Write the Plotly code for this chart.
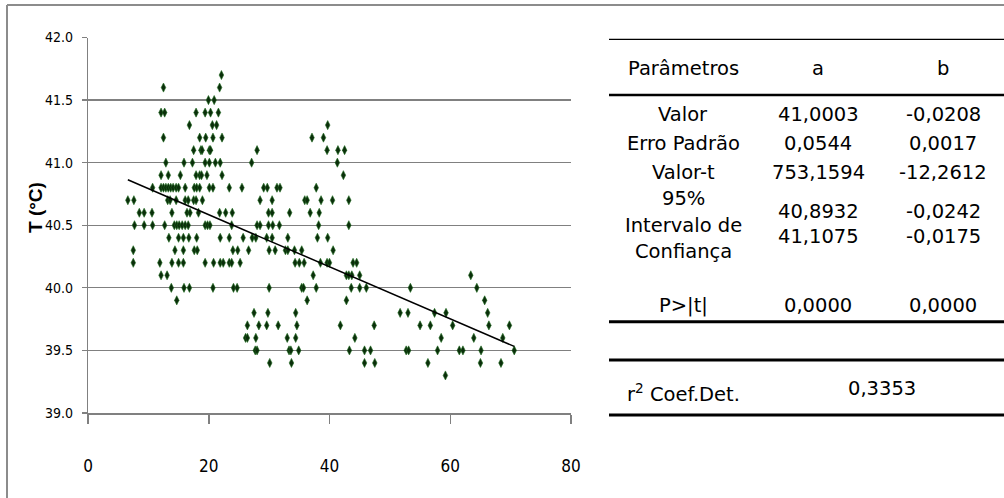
import plotly.graph_objects as go

# ---- data: temperature levels and the x positions of points read at each level ----
levels = [41.7, 41.6, 41.5, 41.4, 41.3, 41.2, 41.1, 41.0, 40.9, 40.8, 40.7, 40.6, 40.5,
          40.4, 40.3, 40.2, 40.1, 40.0, 39.9, 39.8, 39.7, 39.6, 39.5, 39.4, 39.3]
x_at_level = [
    [22.1],
    [12.5, 21.8],
    [19.95, 20.9],
    [12.1, 12.7, 17.9, 19.4, 20.3, 21.6],
    [16.8, 20.6, 21.3, 39.7],
    [12.5, 18.5, 19.5, 20.7, 22.2, 37.1, 39.0],
    [17.5, 18.7, 18.9, 20.1, 20.3, 28.0, 39.6, 41.4, 42.5],
    [12.9, 15.9, 17.3, 19.4, 20.1, 21.1, 21.9, 27.1, 41.3],
    [12.1, 13.3, 15.3, 17.9, 18.5, 18.8, 19.7, 22.2, 42.3],
    [10.7, 12.1, 12.5, 12.9, 13.3, 13.7, 14.1, 14.6, 15.0, 16.1, 17.6, 18.0, 18.5, 20.1,
     20.7, 23.4, 25.5, 29.1, 29.7, 31.3, 31.8, 37.8],
    [6.6, 7.6, 13.2, 13.6, 14.6, 16.1, 16.6, 17.5, 17.9, 18.95, 28.5, 30.5, 35.9, 36.3,
     38.6, 40.5, 43.2],
    [8.5, 9.3, 10.6, 13.9, 16.4, 16.9, 18.3, 21.8, 22.8, 23.9, 29.9, 30.5, 33.4, 36.8, 38.3],
    [7.7, 9.3, 10.7, 12.7, 14.3, 14.7, 15.1, 15.6, 16.1, 16.6, 19.4, 19.8, 20.2, 23.8,
     28.0, 28.5, 29.9, 30.6, 31.7, 38.2, 43.2],
    [13.4, 15.0, 15.8, 16.7, 18.0, 21.9, 23.4, 25.7, 27.2, 27.8, 29.6, 30.5, 33.1, 38.0, 39.7],
    [7.5, 14.4, 15.8, 17.6, 18.1, 24.0, 24.8, 26.6, 30.0, 31.0, 32.7, 33.1, 34.2, 35.4, 40.6],
    [7.5, 11.9, 13.9, 15.0, 15.8, 19.4, 20.8, 21.9, 22.4, 23.4, 23.8, 25.2, 34.3, 35.0,
     35.8, 38.5, 39.6, 40.0, 43.9, 44.5],
    [12.1, 13.1, 37.3, 42.8, 43.2, 43.7, 45.0, 63.4],
    [13.8, 15.9, 16.8, 20.7, 24.1, 24.7, 30.0, 35.4, 35.7, 37.8, 43.6, 45.0, 46.1, 53.4, 64.4],
    [14.7, 36.3, 42.8, 65.7],
    [27.5, 29.8, 34.4, 51.7, 53.0, 57.4, 59.3, 66.2],
    [26.4, 28.3, 29.6, 31.5, 34.6, 41.8, 47.4, 55.0, 56.7, 60.4, 66.4, 69.8],
    [26.1, 26.4, 27.8, 33.0, 34.4, 44.2, 58.5, 63.9, 68.7],
    [27.7, 28.0, 33.3, 33.6, 34.9, 43.3, 45.8, 46.8, 52.7, 53.1, 57.9, 61.5, 62.1, 65.1, 70.6],
    [30.1, 33.7, 45.8, 47.5, 56.3, 65.0, 68.4],
    [59.2],
]

# regression parameters (from the table)
param_a = 41.0003
param_b = -0.0208
fit_x = [6.6, 70.6]

x_ticks = [0, 20, 40, 60, 80]
y_ticks = [39.0, 39.5, 40.0, 40.5, 41.0, 41.5, 42.0]

table_header = ["Parâmetros", "a", "b"]
table_rows = [
    ["Valor", "41,0003", "-0,0208"],
    ["Erro Padrão", "0,0544", "0,0017"],
    ["Valor-t", "753,1594", "-12,2612"],
]
ci_label = ["95%", "Intervalo de", "Confiança"]
ci_a = ["40,8932", "41,1075"]
ci_b = ["-0,0242", "-0,0175"]
p_row = ["P>|t|", "0,0000", "0,0000"]
r2_label = "r<sup>2</sup> Coef.Det."
r2_value = "0,3353"

# ---- build point lists ----
xs, ys = [], []
for lv, xl in zip(levels, x_at_level):
    for xv in xl:
        xs.append(xv)
        ys.append(lv)
fit_y = [param_a + param_b * v for v in fit_x]

W, H = 1004, 498
def px(xpix):
    return xpix / W
def py(ypix):
    return 1 - ypix / H

fig = go.Figure()
fig.add_trace(go.Scatter(
    x=xs, y=ys, mode="markers",
    marker=dict(symbol="diamond-tall", size=6.5, color="#0b2e0b",
                line=dict(color="#1f6b1f", width=0.6)),
    showlegend=False, hoverinfo="skip"))
fig.add_trace(go.Scatter(
    x=fit_x, y=fit_y, mode="lines",
    line=dict(color="#000000", width=1.5),
    showlegend=False, hoverinfo="skip"))

narrow = "Liberation Sans Narrow, DejaVu Sans Condensed, Liberation Sans, sans-serif"

fig.update_layout(
    width=W, height=H,
    margin=dict(l=0, r=0, t=0, b=0, autoexpand=False),
    paper_bgcolor="white", plot_bgcolor="white",
    xaxis=dict(domain=[px(88), px(571)], range=[0, 80], tickvals=x_ticks,
               ticktext=[str(v) for v in x_ticks], automargin=False,
               showgrid=False, zeroline=False, showline=True,
               linecolor="#808080", linewidth=2,
               ticks="outside", ticklen=9, tickcolor="#808080", tickwidth=1.5,
               tickfont=dict(family=narrow, size=17, color="#000000"),
               ticklabelstandoff=28),
    yaxis=dict(domain=[py(413), py(37.5)], range=[39.0, 42.0], tickvals=y_ticks,
               ticktext=["%.1f" % v for v in y_ticks], automargin=False,
               showgrid=True, gridcolor="#808080", gridwidth=1.2,
               zeroline=False, showline=True,
               linecolor="#808080", linewidth=1.2,
               ticks="outside", ticklen=5, tickcolor="#808080", tickwidth=1.2,
               tickfont=dict(family=narrow, size=14, color="#000000"),
               ticklabelstandoff=6),
)

shapes = []
# outer chart border (left and top visible; continues beyond the right/bottom edge)
shapes.append(dict(type="line", xref="paper", yref="paper",
                   x0=px(7), x1=px(7), y0=py(5), y1=-0.05,
                   line=dict(color="#8c8c8c", width=2)))
shapes.append(dict(type="line", xref="paper", yref="paper",
                   x0=px(7), x1=1.05, y0=py(5), y1=py(5),
                   line=dict(color="#8c8c8c", width=2)))
# table rules
for ypix, w in [(39.3, 1.2), (95, 2.6), (321.7, 3), (360, 3), (415, 3)]:
    shapes.append(dict(type="line", xref="paper", yref="paper",
                       x0=px(609), x1=1.05, y0=py(ypix), y1=py(ypix),
                       line=dict(color="#000000", width=w)))
fig.update_layout(shapes=shapes)

tfont = dict(family="DejaVu Sans, Verdana, sans-serif", size=19.5, color="#000000")
col_x = [683, 818, 943]
ann = []
def add_text(text, xpix, ypix, font=tfont, angle=0):
    ann.append(dict(text=text, x=px(xpix), y=py(ypix), xref="paper", yref="paper",
                    showarrow=False, xanchor="center", yanchor="middle",
                    font=font, textangle=angle))

for t, cx in zip(table_header, col_x):
    add_text(t, cx, 68)
for row, ry in zip(table_rows, [115, 143, 172]):
    for t, cx in zip(row, col_x):
        add_text(t, cx, ry)
for t, ry in zip(ci_label, [198, 225, 252]):
    add_text(t, col_x[0], ry)
for t, ry in zip(ci_a, [212, 237]):
    add_text(t, col_x[1], ry)
for t, ry in zip(ci_b, [212, 237]):
    add_text(t, col_x[2], ry)
for t, cx in zip(p_row, col_x):
    add_text(t, cx, 305)
add_text(r2_label, 683, 393)
add_text(r2_value, 882, 388)

# y-axis title
add_text("<b>T (°C)</b>", 35, 208,
         font=dict(family="Liberation Sans, Arial, sans-serif", size=19, color="#000000"),
         angle=-90)

fig.update_layout(annotations=ann)
fig.write_html("out.html",
               config={"displayModeBar": False, "staticPlot": True},
               post_script="document.body.style.margin='0px';document.body.style.overflow='hidden';")
